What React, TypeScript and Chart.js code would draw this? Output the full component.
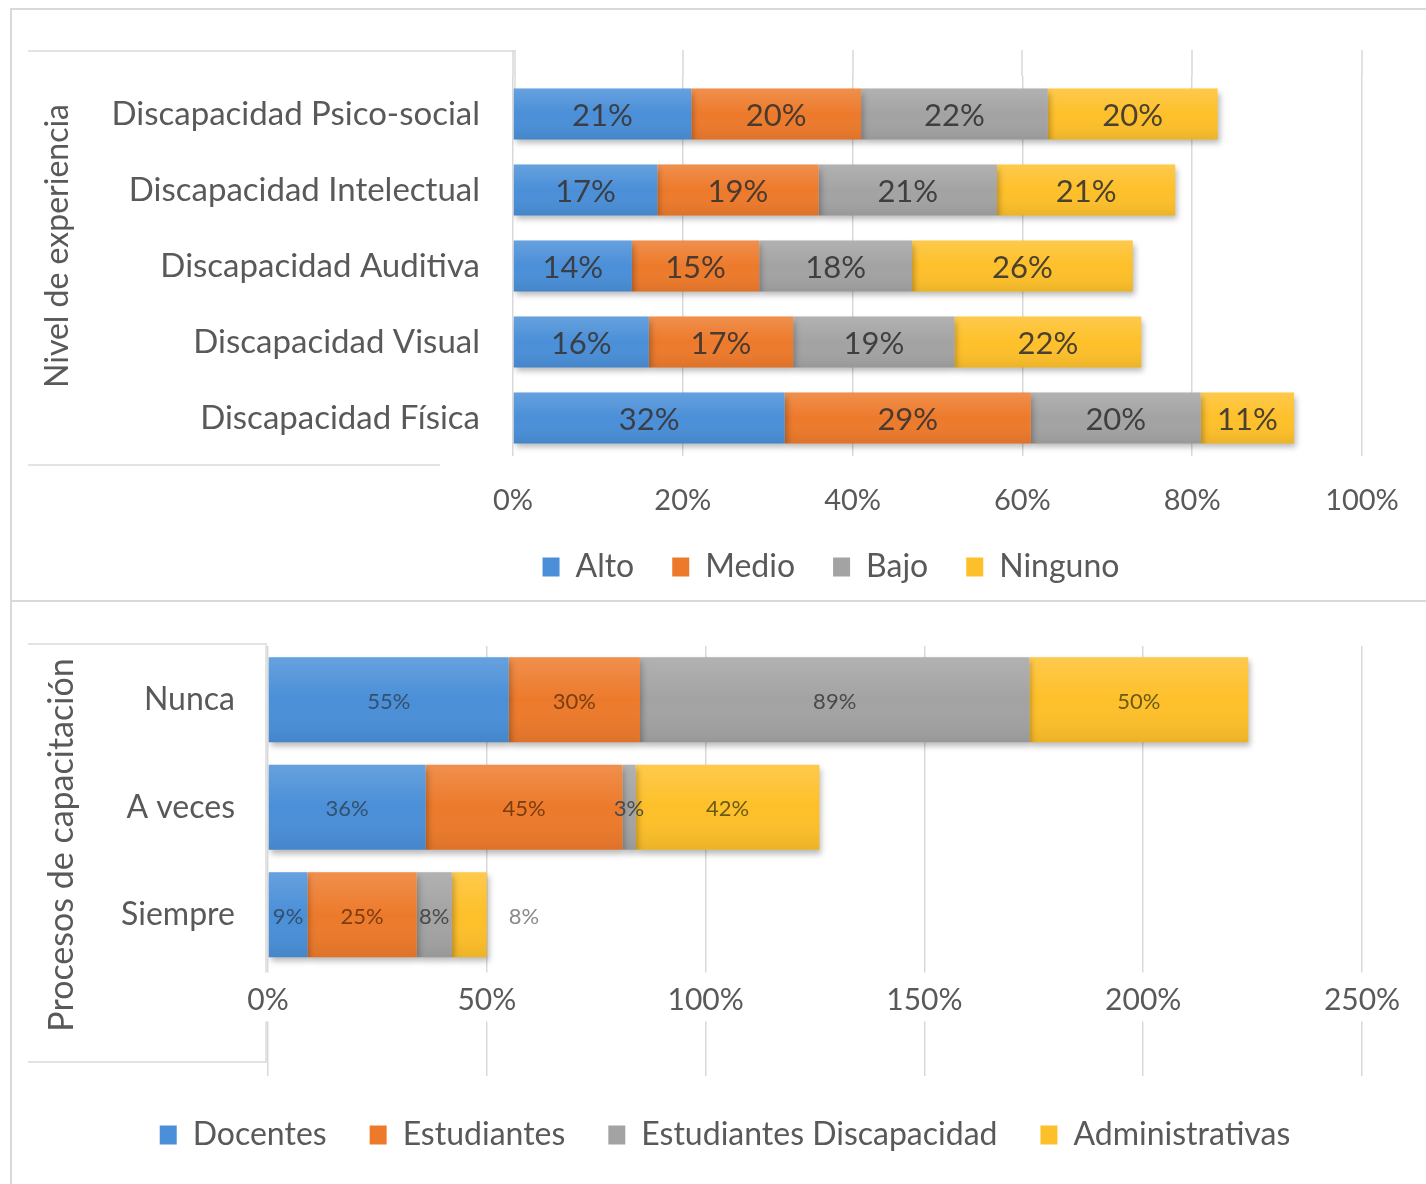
import React, { useEffect, useRef } from 'react';
import { Chart, registerables } from 'chart.js';

Chart.register(...registerables);

const FONT_FAMILY = "Lato, 'Open Sans', sans-serif";
const TEXT_COLOR = '#595959';
const GRID_COLOR = '#d9d9d9';
const SERIES_COLORS = ['#4a8fd8', '#ed7a2b', '#a3a3a3', '#fec02a'];

// ---- Top chart: Nivel de experiencia ----
const experienceCategories = [
  'Discapacidad Psico-social',
  'Discapacidad Intelectual',
  'Discapacidad Auditiva',
  'Discapacidad Visual',
  'Discapacidad Física',
];
const experienceSeries = ['Alto', 'Medio', 'Bajo', 'Ninguno'];
const altoValues = [21, 17, 14, 16, 32];
const medioValues = [20, 19, 15, 17, 29];
const bajoValues = [22, 21, 18, 19, 20];
const ningunoValues = [20, 21, 26, 22, 11];
const experienceTicks = [0, 20, 40, 60, 80, 100];

// ---- Bottom chart: Procesos de capacitación ----
const trainingCategories = ['Nunca', 'A veces', 'Siempre', ''];
const trainingSeries = ['Docentes', 'Estudiantes', 'Estudiantes Discapacidad', 'Administrativas'];
const docentesValues = [55, 36, 9];
const estudiantesValues = [30, 45, 25];
const estudiantesDiscValues = [89, 3, 8];
const administrativasValues = [50, 42, 8];
const trainingTicks = [0, 50, 100, 150, 200, 250];

const barDecorPlugin = {
  id: 'barDecor',
  beforeDatasetsDraw(chart: any, _args: any, opts: any) {
    const { ctx, chartArea } = chart;
    if (opts.gridTop != null) {
      const xs = chart.scales.x;
      ctx.save();
      ctx.strokeStyle = GRID_COLOR;
      ctx.lineWidth = 1.5;
      xs.ticks.forEach((t: any) => {
        const px = Math.round(xs.getPixelForValue(t.value));
        ctx.beginPath();
        ctx.moveTo(px, opts.gridTop);
        ctx.lineTo(px, chartArea.top);
        ctx.stroke();
      });
      ctx.restore();
    }
    ctx.save();
    ctx.shadowColor = 'rgba(0,0,0,0.28)';
    ctx.shadowBlur = 6;
    ctx.shadowOffsetX = 2;
    ctx.shadowOffsetY = 4;
  },
  afterDatasetsDraw(chart: any, _args: any, opts: any) {
    const { ctx } = chart;
    ctx.restore();
    chart.data.datasets.forEach((ds: any, di: number) => {
      const meta = chart.getDatasetMeta(di);
      meta.data.forEach((el: any) => {
        const { x, y, base, height } = el.getProps(['x', 'y', 'base', 'height'], true);
        const top = y - height / 2;
        const g = ctx.createLinearGradient(0, top, 0, top + height);
        g.addColorStop(0, 'rgba(255,255,255,0.16)');
        g.addColorStop(0.5, 'rgba(255,255,255,0)');
        g.addColorStop(1, 'rgba(0,0,0,0.07)');
        ctx.fillStyle = g;
        ctx.fillRect(Math.min(base, x), top, Math.abs(x - base), height);
      });
    });
    ctx.save();
    ctx.font = `${opts.fontSize}px ${FONT_FAMILY}`;
    ctx.textBaseline = 'middle';
    chart.data.datasets.forEach((ds: any, di: number) => {
      const meta = chart.getDatasetMeta(di);
      meta.data.forEach((el: any, i: number) => {
        const v = ds.data[i];
        if (v == null) return;
        const { x, y, base } = el.getProps(['x', 'y', 'base'], true);
        const outside = (opts.outside || []).some((p: number[]) => p[0] === di && p[1] === i);
        if (outside) {
          ctx.textAlign = 'left';
          ctx.fillStyle = opts.outsideColor;
          ctx.fillText(v + '%', x + opts.outsideGap, y + 2);
        } else {
          ctx.textAlign = 'center';
          ctx.fillStyle = opts.colors[di];
          ctx.fillText(v + '%', (x + base) / 2, y + 2);
        }
      });
    });
    ctx.restore();
  },
};

const sideTitlePlugin = {
  id: 'sideTitle',
  afterDraw(chart: any, _args: any, opts: any) {
    const { ctx } = chart;
    ctx.save();
    ctx.translate(opts.x, opts.y);
    ctx.rotate(-Math.PI / 2);
    ctx.font = `${opts.fontSize}px ${FONT_FAMILY}`;
    ctx.fillStyle = TEXT_COLOR;
    ctx.textAlign = 'center';
    ctx.textBaseline = 'middle';
    ctx.fillText(opts.text, 0, 0);
    ctx.restore();
  },
};

// Moves the legend horizontally so that it is centred where the original one was.
const legendShiftPlugin = {
  id: 'legendShift',
  afterLayout(chart: any, _args: any, opts: any) {
    const lg = chart.legend;
    if (!lg || !opts.dx) return;
    lg.left += opts.dx;
    lg.right += opts.dx;
  },
};

function line(style: React.CSSProperties): React.CSSProperties {
  return { position: 'absolute', background: GRID_COLOR, ...style };
}

const hiddenTickGrid = (len: number) => ({
  display: true,
  color: 'rgba(0,0,0,0)',
  drawOnChartArea: false,
  drawTicks: true,
  tickLength: len,
});

export default function App() {
  const topRef = useRef<HTMLCanvasElement | null>(null);
  const bottomRef = useRef<HTMLCanvasElement | null>(null);

  useEffect(() => {
    const expValues = [altoValues, medioValues, bajoValues, ningunoValues];
    const topChart = new Chart(topRef.current as HTMLCanvasElement, {
      type: 'bar',
      data: {
        labels: experienceCategories,
        datasets: experienceSeries.map((name, k) => ({
          label: name,
          data: expValues[k],
          backgroundColor: SERIES_COLORS[k],
          borderWidth: 0,
          barPercentage: 0.67,
          categoryPercentage: 1,
        })),
      },
      options: {
        indexAxis: 'y',
        responsive: false,
        animation: false,
        layout: { padding: { left: 0, right: 64, top: 76, bottom: 7 } },
        scales: {
          x: {
            stacked: true,
            min: 0,
            max: 100,
            afterBuildTicks: (s: any) => {
              s.ticks = experienceTicks.map((v) => ({ value: v }));
            },
            afterFit: (s: any) => {
              s.height = 57;
            },
            grid: { color: GRID_COLOR, lineWidth: 1.5, drawTicks: false },
            border: { display: false },
            ticks: {
              padding: 27,
              color: TEXT_COLOR,
              font: { family: FONT_FAMILY, size: 29 },
              callback: (v: any) => v + '%',
            },
          },
          y: {
            stacked: true,
            afterFit: (s: any) => {
              s.width = 513;
            },
            grid: hiddenTickGrid(33),
            border: { display: false },
            ticks: { padding: 0, color: TEXT_COLOR, font: { family: FONT_FAMILY, size: 33 } },
          },
        },
        plugins: {
          legend: {
            position: 'bottom',
            labels: {
              boxWidth: 17,
              boxHeight: 19,
              padding: 38,
              color: TEXT_COLOR,
              font: { family: FONT_FAMILY, size: 32 },
            },
          },
          tooltip: { enabled: false },
          legendShift: { dx: 150 },
          barDecor: {
            gridTop: 50,
            fontSize: 31,
            colors: ['#3a3f47', '#4a3a30', '#3f3f3f', '#4a4130'],
          },
          sideTitle: { text: 'Nivel de experiencia', x: 58, y: 246, fontSize: 32 },
        } as any,
      },
      plugins: [barDecorPlugin, sideTitlePlugin, legendShiftPlugin],
    } as any);

    const trValues = [docentesValues, estudiantesValues, estudiantesDiscValues, administrativasValues];
    const bottomChart = new Chart(bottomRef.current as HTMLCanvasElement, {
      type: 'bar',
      data: {
        labels: trainingCategories,
        datasets: trainingSeries.map((name, k) => ({
          label: name,
          data: trValues[k],
          backgroundColor: SERIES_COLORS[k],
          borderWidth: 0,
          barPercentage: 0.79,
          categoryPercentage: 1,
        })),
      },
      options: {
        indexAxis: 'y',
        responsive: false,
        animation: false,
        layout: { padding: { left: 0, right: 64, top: 46, bottom: 23 } },
        scales: {
          x: {
            stacked: true,
            position: { y: 2.5 },
            min: 0,
            max: 250,
            afterBuildTicks: (s: any) => {
              s.ticks = trainingTicks.map((v) => ({ value: v }));
            },
            grid: { color: GRID_COLOR, lineWidth: 1.5, drawTicks: false },
            border: { display: false },
            ticks: {
              padding: 14,
              color: TEXT_COLOR,
              font: { family: FONT_FAMILY, size: 30 },
              showLabelBackdrop: true,
              backdropColor: '#ffffff',
              backdropPadding: { top: 10, bottom: 3, left: 4, right: 4 },
              callback: (v: any) => v + '%',
            },
          },
          y: {
            stacked: true,
            afterFit: (s: any) => {
              s.width = 268;
            },
            grid: hiddenTickGrid(33),
            border: { display: false },
            ticks: { padding: 0, color: TEXT_COLOR, font: { family: FONT_FAMILY, size: 32 } },
          },
        },
        plugins: {
          legend: {
            position: 'bottom',
            labels: {
              boxWidth: 17,
              boxHeight: 19,
              padding: 43,
              color: TEXT_COLOR,
              font: { family: FONT_FAMILY, size: 32 },
            },
          },
          tooltip: { enabled: false },
          legendShift: { dx: 44 },
          barDecor: {
            fontSize: 22,
            colors: ['#34506e', '#7a3d12', '#4a4a4a', '#6b5a14'],
            outside: [[3, 2]],
            outsideGap: 22,
            outsideColor: '#8a8a8a',
          },
          sideTitle: { text: 'Procesos de capacitación', x: 62, y: 245, fontSize: 34 },
        } as any,
      },
      plugins: [barDecorPlugin, sideTitlePlugin, legendShiftPlugin],
    } as any);

    return () => {
      topChart.destroy();
      bottomChart.destroy();
    };
  }, []);

  return (
    <div style={{ position: 'absolute', left: 0, top: 0, width: 1426, height: 1184, background: '#fff', overflow: 'hidden' }}>
      {/* outer frame */}
      <div style={line({ left: 10, top: 8, width: 1416, height: 2 })} />
      <div style={line({ left: 10, top: 8, width: 2, height: 1176 })} />
      <div style={line({ left: 10, top: 600, width: 1416, height: 2 })} />
      {/* top inner box */}
      <div style={line({ left: 28, top: 50, width: 487, height: 2, background: '#e3e3e3' })} />
      <div style={line({ left: 514, top: 50, width: 2, height: 40, background: '#e3e3e3' })} />
      <div style={line({ left: 28, top: 464, width: 412, height: 2, background: '#e3e3e3' })} />
      {/* bottom inner box */}
      <div style={line({ left: 28, top: 643, width: 239, height: 2, background: '#e3e3e3' })} />
      <div style={line({ left: 265, top: 643, width: 2, height: 420, background: '#e3e3e3' })} />
      <div style={line({ left: 28, top: 1061, width: 239, height: 2, background: '#e3e3e3' })} />
      <canvas ref={topRef} width={1426} height={600} style={{ position: 'absolute', left: 0, top: 0 }} />
      <canvas ref={bottomRef} width={1426} height={584} style={{ position: 'absolute', left: 0, top: 600 }} />
    </div>
  );
}
